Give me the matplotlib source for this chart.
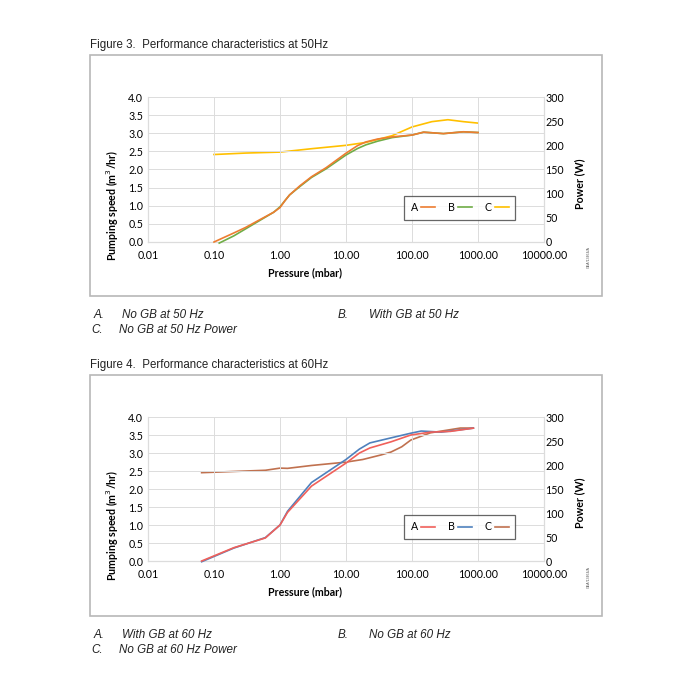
import matplotlib
matplotlib.use("Agg")
import matplotlib.pyplot as plt
from matplotlib.patches import Rectangle

# ---------------- data ----------------
# Figure 3 (50 Hz)
p_a50 = [0.1, 0.2, 0.3, 0.5, 0.8, 1.0, 1.2, 1.4, 2, 3, 5, 10, 15, 20, 30, 50, 100, 150, 300, 600, 1000]
s_a50 = [0.0, 0.25, 0.4, 0.62, 0.82, 0.95, 1.15, 1.3, 1.55, 1.8, 2.05, 2.45, 2.66, 2.76, 2.84, 2.9, 2.95, 3.03, 2.99, 3.04, 3.02]
p_b50 = [0.12, 0.2, 0.3, 0.5, 0.8, 1.0, 1.2, 1.4, 2, 3, 5, 10, 15, 20, 30, 50, 100, 150, 300, 600, 1000]
s_b50 = [-0.03, 0.17, 0.36, 0.6, 0.82, 0.97, 1.15, 1.3, 1.53, 1.78, 2.02, 2.4, 2.58, 2.68, 2.78, 2.88, 2.95, 3.03, 2.99, 3.04, 3.02]
p_c50 = [0.1, 0.3, 1, 3, 10, 20, 30, 50, 100, 200, 350, 600, 1000]
w_c50 = [181, 184, 186, 193, 200, 206, 212, 220, 238, 249, 253, 249, 246]

# Figure 4 (60 Hz)
p_a60 = [0.065, 0.2, 0.6, 1.0, 1.3, 3, 10, 16, 23, 48, 96, 190, 380, 850]
s_a60 = [0.0, 0.37, 0.64, 1.0, 1.35, 2.08, 2.72, 3.0, 3.14, 3.31, 3.5, 3.58, 3.6, 3.69]
p_b60 = [0.065, 0.2, 0.6, 1.0, 1.3, 3, 10, 16, 23, 48, 96, 138, 277, 850]
s_b60 = [-0.02, 0.36, 0.65, 1.0, 1.38, 2.18, 2.82, 3.11, 3.28, 3.42, 3.55, 3.61, 3.58, 3.69]
p_c60 = [0.065, 0.6, 1.0, 1.3, 3, 10, 18, 34, 48, 70, 96, 190, 540, 850]
w_c60 = [184, 189, 193.5, 193, 199, 206, 211.5, 221, 227, 238, 252, 267, 277, 277]

x_ticks = [0.01, 0.1, 1, 10, 100, 1000, 10000]
x_ticklabels = ["0.01", "0.10", "1.00", "10.00", "100.00", "1000.00", "10000.00"]
y_ticks = [0.0, 0.5, 1.0, 1.5, 2.0, 2.5, 3.0, 3.5, 4.0]
w_ticks = [0, 50, 100, 150, 200, 250, 300]

titles = ["Figure 3.  Performance characteristics at 50Hz",
          "Figure 4.  Performance characteristics at 60Hz"]
captions = [[("A.", "No GB at 50 Hz"), ("B.", "With GB at 50 Hz"), ("C.", "No GB at 50 Hz Power")],
            [("A.", "With GB at 60 Hz"), ("B.", "No GB at 60 Hz"), ("C.", "No GB at 60 Hz Power")]]
colors50 = ["#ED7D31", "#70AD47", "#FFC000"]
colors60 = ["#F0605A", "#4F81BD", "#C0714F"]

# ---------------- drawing ----------------
W = H = 700
fig = plt.figure(figsize=(7, 7), dpi=100)
fig.patch.set_facecolor("white")

def fx(x):
    return x / W

def fy(y):
    return 1 - y / H

TICKFONT = "Lato"
FS = 7.7
GRID = "#dcdcdc"

def make_chart(top, bottom, box, title_y, cap_y, data, cols, caps, title):
    ax = fig.add_axes([fx(148), fy(bottom), fx(544) - fx(148), fy(top) - fy(bottom)])
    ax2 = ax.twinx()
    for a in (ax, ax2):
        for s in a.spines.values():
            s.set_visible(False)
    ax.set_xscale("log")
    ax.set_xlim(0.01, 10000)
    ax.set_ylim(0, 4)
    ax2.set_ylim(0, 300)
    ax.set_xticks(x_ticks)
    ax.set_xticklabels(x_ticklabels)
    ax.xaxis.set_minor_locator(matplotlib.ticker.NullLocator())
    ax.set_yticks(y_ticks)
    ax.set_yticklabels([f"{v:.1f}" for v in y_ticks])
    ax2.set_yticks(w_ticks)
    ax2.set_yticklabels([str(v) for v in w_ticks])
    ax.tick_params(axis="both", length=0, labelsize=FS, colors="#000000")
    ax.tick_params(axis="x", pad=5.5)
    ax.tick_params(axis="y", pad=3.5)
    ax2.tick_params(axis="y", length=0, labelsize=FS, pad=1)
    for lab in ax.get_xticklabels() + ax.get_yticklabels() + ax2.get_yticklabels():
        lab.set_fontfamily(TICKFONT)
    ax.grid(True, color=GRID, lw=0.7)
    ax.set_axisbelow(True)
    for xv in (0.01, 10000):
        ax.axvline(xv, color=GRID, lw=0.9, clip_on=False, zorder=0)
    ax.axhline(0, color=GRID, lw=0.9, clip_on=False, zorder=0)

    (pa, sa), (pb, sb), (pc, wc) = data
    la, = ax.plot(pa, sa, color=cols[0], lw=1.2, clip_on=False, zorder=3)
    lb, = ax.plot(pb, sb, color=cols[1], lw=1.2, clip_on=False, zorder=2)
    lc, = ax2.plot(pc, wc, color=cols[2], lw=1.2, clip_on=False)
    ax2.set_zorder(ax.get_zorder() - 1)
    ax.patch.set_visible(False)

    leg = ax.legend([la, lb, lc], ["A", "B", "C"], ncol=3, markerfirst=False,
                    loc="center", bbox_to_anchor=(0.787, 0.237),
                    frameon=True, fancybox=False, handlelength=1.3,
                    handletextpad=0.3, columnspacing=1.2, borderpad=0.6,
                    prop={"family": TICKFONT, "size": FS})
    leg.get_frame().set_edgecolor("#404040")
    leg.get_frame().set_linewidth(0.9)

    mid = (top + bottom) / 2
    fig.text(fx(112), fy(mid + 36), "Pumping speed (m$^3$/hr)", rotation=90,
             ha="center", va="center", fontsize=FS, fontweight="bold", family=TICKFONT)
    fig.text(fx(580), fy(mid + 14), "Power (W)", rotation=90,
             ha="center", va="center", fontsize=FS, fontweight="bold", family=TICKFONT)
    fig.text(fx(305), fy(bottom + 31), "Pressure (mbar)",
             ha="center", va="center", fontsize=FS, fontweight="bold", family=TICKFONT)
    fig.text(fx(589), fy(mid + 88), "GEA/13464/A", rotation=90,
             ha="center", va="center", fontsize=2.6, color="#555555", family="Liberation Sans")

    # outer box
    bx0, by0, bx1, by1 = box
    fig.add_artist(Rectangle((fx(bx0), fy(by1)), fx(bx1 - bx0), fy(by0) - fy(by1),
                             transform=fig.transFigure, fill=False,
                             edgecolor="#b8b8b8", lw=1.2))
    fig.text(fx(90), fy(title_y), title, ha="left", va="center",
             fontsize=8.3, family="Liberation Sans", color="#222222")
    # captions
    cfont = dict(fontsize=8.4, family="Liberation Sans", style="italic", color="#222222", va="center")
    fig.text(fx(94), fy(cap_y), caps[0][0], ha="left", **cfont)
    fig.text(fx(122), fy(cap_y), caps[0][1], ha="left", **cfont)
    fig.text(fx(338), fy(cap_y), caps[1][0], ha="left", **cfont)
    fig.text(fx(369), fy(cap_y), caps[1][1], ha="left", **cfont)
    fig.text(fx(91), fy(cap_y + 15), caps[2][0], ha="left", **cfont)
    fig.text(fx(119), fy(cap_y + 15), caps[2][1], ha="left", **cfont)

make_chart(97, 242, (90, 55, 602, 296), 45, 315,
           [(p_a50, s_a50), (p_b50, s_b50), (p_c50, w_c50)], colors50, captions[0], titles[0])
make_chart(417, 561, (90, 375, 602, 616), 365, 635,
           [(p_a60, s_a60), (p_b60, s_b60), (p_c60, w_c60)], colors60, captions[1], titles[1])

fig.savefig("out.png", dpi=100, facecolor="white")
